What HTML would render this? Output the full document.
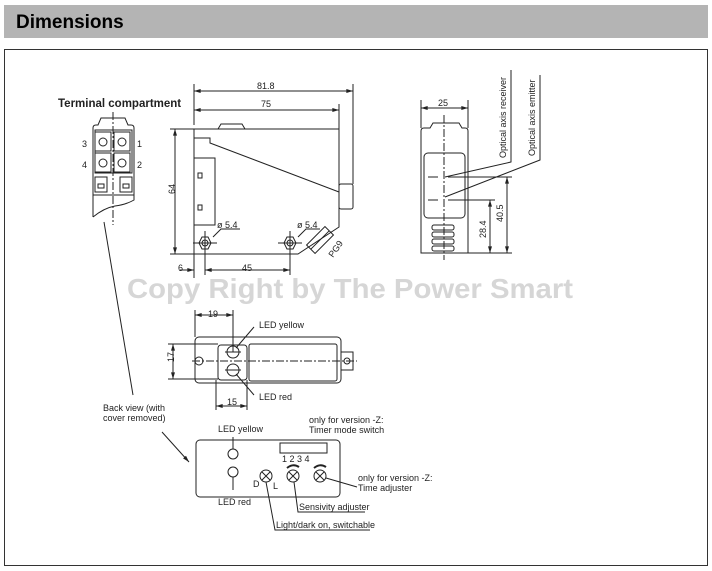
<!DOCTYPE html>
<html><head><meta charset="utf-8"><style>
body{margin:0;background:#fff;width:712px;height:571px;overflow:hidden}
svg{display:block}
text{font-family:"Liberation Sans",sans-serif;fill:#222}
</style></head><body>
<svg width="712" height="571" viewBox="0 0 712 571">
<defs>
<marker id="a" viewBox="0 0 10 6" refX="10" refY="3" markerWidth="8" markerHeight="4" orient="auto-start-reverse"><path d="M0,0L10,3L0,6z" fill="#222"/></marker>
</defs>
<rect x="4" y="5" width="704" height="33" fill="#b4b4b4"/>
<text x="16" y="28" font-size="19" font-weight="bold" style="fill:#000">Dimensions</text>
<rect x="4.5" y="49.5" width="703" height="516" fill="none" stroke="#333" stroke-width="1"/>

<g stroke="#222" fill="none" stroke-width="1">
<!-- Terminal compartment -->
<path d="M93,217 L93,128 Q93,125 96,125 L98,125 L101,118 L125,118 L128,125 L131,125 Q134,125 134,128 L134,200 Q125,205 115,206 Q104,208 93,217"/>
<path d="M93,195 L134,195"/>
<rect x="95" y="130" width="37" height="43"/>
<rect x="95" y="132" width="16" height="19"/><rect x="114" y="132" width="16" height="19"/>
<rect x="95" y="153" width="16" height="19"/><rect x="114" y="153" width="16" height="19"/>
<circle cx="103" cy="142" r="4"/><circle cx="122" cy="142" r="4"/>
<circle cx="103" cy="163" r="4"/><circle cx="122" cy="163" r="4"/>
<rect x="95" y="177" width="12" height="15"/><rect x="120" y="177" width="12" height="15"/>
<rect x="98" y="184" width="6" height="4"/><rect x="123" y="184" width="6" height="4"/>
<path d="M113,112 V225" stroke-dasharray="8,2,2,2"/>
<path d="M104,222 L133,395"/>

<!-- Side view -->
<path d="M194,129 L339,129 L339,227 L298,254 L194,254 Z"/>
<path d="M218,129 L221,124 L242,124 L245,129"/>
<path d="M194,138 L210,138 L210,143 L339,192"/>
<rect x="194" y="158" width="21" height="67"/>
<rect x="198" y="173" width="4" height="5"/><rect x="198" y="205" width="4" height="5"/>
<rect x="339" y="184" width="14" height="25" rx="2"/>
<g transform="translate(320,240) rotate(-45)"><rect x="-13" y="-6" width="26" height="12"/><path d="M-13,0 H13"/></g>
<path d="M199,243 l3,-6 h6 l3,6 l-3,6 h-6z"/><circle cx="205" cy="243" r="3"/>
<path d="M284,243 l3,-6 h6 l3,6 l-3,6 h-6z"/><circle cx="290" cy="243" r="3"/>
<path d="M193,243 h24 M205,231 v44 M278,243 h24 M290,231 v44"/>
<path d="M213,237 L221,229 H240 M298,237 L306,229 H320"/>
<path d="M194,84 V125 M353,84 V184 M339,104 V129"/>
<path d="M194,91 H353" marker-start="url(#a)" marker-end="url(#a)"/>
<path d="M194,110 H339" marker-start="url(#a)" marker-end="url(#a)"/>
<path d="M170,129 H194 M170,254 H194"/>
<path d="M175,129 V254" marker-start="url(#a)" marker-end="url(#a)"/>
<path d="M194,254 V278"/>
<path d="M180,270 H194" marker-end="url(#a)"/>
<path d="M205,270 H290" marker-start="url(#a)" marker-end="url(#a)"/>

<!-- back view -->
<path d="M421,253 V131 Q421,128 424,128 L430,128 L433,123 L459,123 L462,128 L465,128 Q468,128 468,131 V253 Z"/>
<rect x="424" y="153" width="41" height="65" rx="4"/>
<path d="M444,115 V260" stroke-dasharray="8,2,2,2"/>
<path d="M428,177 H438 M448,177 H512 M428,200 H438 M448,200 H495"/>
<rect x="432" y="225" width="22" height="5" rx="2"/><rect x="432" y="232" width="22" height="5" rx="2"/>
<rect x="432" y="239" width="22" height="5" rx="2"/><rect x="432" y="246" width="22" height="5" rx="2"/>
<path d="M421,100 V128 M468,100 V128"/>
<path d="M421,108 H468" marker-start="url(#a)" marker-end="url(#a)"/>
<path d="M468,253 H512"/>
<path d="M490,200 V253" marker-start="url(#a)" marker-end="url(#a)"/>
<path d="M507,177 V253" marker-start="url(#a)" marker-end="url(#a)"/>
<path d="M445,177 L511,162 V70 M445,197 L540,160 V75"/>

<!-- top view -->
<rect x="195" y="337" width="146" height="46" rx="4"/>
<rect x="218" y="345" width="29" height="35" rx="3"/>
<rect x="249" y="344" width="88" height="37" rx="2"/>
<circle cx="233" cy="352" r="6"/><circle cx="233" cy="370" r="6"/>
<path d="M225,352 h16 M225,370 h16"/>
<circle cx="199" cy="361" r="4"/>
<rect x="341" y="352" width="12" height="18"/><circle cx="347" cy="361" r="3"/>
<path d="M192,361 H357" stroke-dasharray="8,2,2,2"/>
<path d="M195,310 V337 M233,310 V352"/>
<path d="M195,315 H233" marker-start="url(#a)" marker-end="url(#a)"/>
<path d="M168,344 H218 M168,379 H218"/>
<path d="M173,344 V379" marker-start="url(#a)" marker-end="url(#a)"/>
<path d="M216,380 V410 M247,380 V410"/>
<path d="M216,406 H247" marker-start="url(#a)" marker-end="url(#a)"/>
<path d="M236,348 L254,327 M236,374 L254,395"/>

<!-- back panel -->
<rect x="196" y="440" width="144" height="57" rx="4"/>
<circle cx="233" cy="454" r="5"/><circle cx="233" cy="472" r="5"/>
<path d="M233,437 V449 M233,477 V490"/>
<rect x="280" y="443" width="47" height="10"/>
<circle cx="266" cy="476" r="6"/><path d="M262,472 l8,8 M270,472 l-8,8"/>
<circle cx="293" cy="476" r="6"/><path d="M289,472 l8,8 M297,472 l-8,8"/>
<circle cx="320" cy="476" r="6"/><path d="M316,472 l8,8 M324,472 l-8,8"/>
<path d="M287,468 Q293,463 299,467 M314,468 Q320,463 326,467" stroke-width="2"/>
<path d="M294,482 L298,512 H365 M266,482 L275,530 H370 M326,478 L357,487"/>
<path d="M162,432 L189,462" marker-end="url(#a)"/>
</g>

<g font-size="9">
<text x="58" y="107" font-size="11.5" font-weight="bold">Terminal compartment</text>
<text x="82" y="147">3</text><text x="137" y="147">1</text>
<text x="82" y="168">4</text><text x="137" y="168">2</text>
<text x="257" y="89">81.8</text><text x="261" y="107">75</text>
<text x="171" y="198" transform="rotate(-90 171 194)">64</text>
<text x="178" y="271">6</text><text x="242" y="271">45</text>
<text x="217" y="228">ø 5.4</text><text x="297" y="228">ø 5.4</text>
<text x="333" y="258" transform="rotate(-55 333 258)">PG9</text>
<text x="438" y="106">25</text>
<text x="486" y="238" transform="rotate(-90 486 238)">28.4</text>
<text x="503" y="222" transform="rotate(-90 503 222)">40.5</text>
<text x="506" y="158" transform="rotate(-90 506 158)">Optical axis receiver</text>
<text x="535" y="156" transform="rotate(-90 535 156)">Optical axis emitter</text>
<text x="208" y="317">19</text>
<text x="170" y="366" transform="rotate(-90 170 362)">17</text>
<text x="227" y="405">15</text>
<text x="259" y="328">LED yellow</text><text x="259" y="400">LED red</text>
<text x="103" y="411">Back view (with</text><text x="103" y="421">cover removed)</text>
<text x="218" y="432">LED yellow</text><text x="218" y="505">LED red</text>
<text x="309" y="423">only for version -Z:</text><text x="309" y="433">Timer mode switch</text>
<text x="282" y="462">1  2  3  4</text>
<text x="253" y="487">D</text><text x="273" y="489">L</text>
<text x="358" y="481">only for version -Z:</text><text x="358" y="491">Time adjuster</text>
<text x="299" y="510">Sensivity adjuster</text>
<text x="276" y="528">Light/dark on, switchable</text>
</g>
<text x="127" y="298" font-size="28" font-weight="bold" textLength="446" lengthAdjust="spacingAndGlyphs" style="fill:#d6d6d6">Copy Right by The Power Smart</text>
</svg>
</body></html>
